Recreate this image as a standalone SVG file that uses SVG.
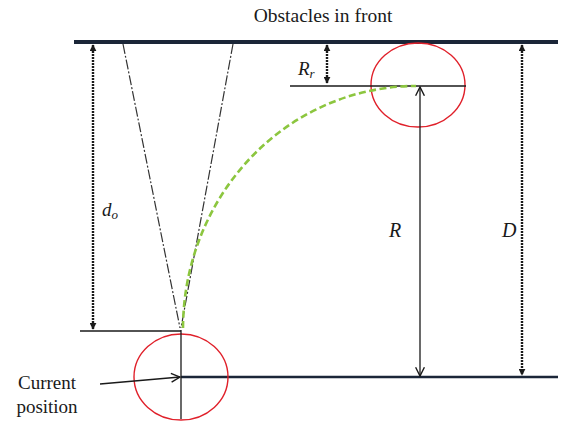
<svg xmlns="http://www.w3.org/2000/svg" width="566" height="421" viewBox="0 0 566 421">
<style>
.t{font-family:"Liberation Serif","Times New Roman",serif;fill:#1a1a1a}
.i{font-style:italic}
.ln{stroke:#1a1a1a;stroke-width:1.3;fill:none}
.dim{stroke:#1a1a1a;stroke-width:2.4;fill:none;stroke-dasharray:2 1}
.circ{stroke:#e0202a;stroke-width:1.4;fill:none}
.cone{stroke:#333;stroke-width:1.2;fill:none;stroke-dasharray:10 2 2 2}
</style>
<defs>
<marker id="af" viewBox="0 0 10 10" refX="9" refY="5" markerWidth="7" markerHeight="7" orient="auto-start-reverse" markerUnits="userSpaceOnUse">
<path d="M0,0 L10,5 L0,10 z" fill="#1a1a1a"/>
</marker>
<marker id="ao" viewBox="0 0 10 10" refX="9" refY="5" markerWidth="11" markerHeight="11" orient="auto-start-reverse" markerUnits="userSpaceOnUse">
<path d="M1,1 L9,5 L1,9" fill="none" stroke="#1a1a1a" stroke-width="1.3"/>
</marker>
</defs>
<rect width="566" height="421" fill="#fff"/>
<g id="title"><text class="t" x="323" y="22" font-size="19.5" text-anchor="middle">Obstacles in front</text></g>
<g id="obstacle-line"><line x1="74" y1="42" x2="558" y2="42" stroke="#1b2638" stroke-width="4"/></g>
<g id="bottom-line"><line x1="181" y1="377" x2="558" y2="377" stroke="#1b2638" stroke-width="2.4"/></g>
<g id="sensor-cone">
<line class="cone" x1="123" y1="44" x2="180" y2="328"/>
<line class="cone" x1="233" y1="44" x2="181" y2="328"/>
</g>
<g id="current-circle"><ellipse class="circ" cx="181" cy="377" rx="47" ry="43"/></g>
<g id="target-circle"><ellipse class="circ" cx="418" cy="85" rx="47" ry="42"/></g>
<g id="connectors">
<line class="ln" x1="80" y1="331" x2="181" y2="331"/>
<line class="ln" x1="181" y1="330" x2="181" y2="419"/>
<line class="ln" x1="290" y1="86" x2="466" y2="86"/>
<line class="dim" x1="93" y1="45" x2="93" y2="329" marker-start="url(#af)" marker-end="url(#af)"/>
<line class="dim" x1="327" y1="45" x2="327" y2="83" marker-start="url(#af)" marker-end="url(#af)"/>
<line class="dim" x1="522" y1="45" x2="522" y2="375" marker-start="url(#af)" marker-end="url(#af)"/>
<line class="ln" x1="420" y1="87" x2="420" y2="376" marker-start="url(#ao)" marker-end="url(#ao)"/>
<line class="ln" x1="100" y1="384" x2="180" y2="377" marker-end="url(#ao)"/>
<path d="M183,328 A233,243 0 0 1 416,86" fill="none" stroke="#8cc63f" stroke-width="2.6" stroke-dasharray="7 3.5"/>
</g>
<g id="labels">
<text class="t i" x="102" y="216" font-size="19">d<tspan font-size="13" dy="3">o</tspan></text>
<text class="t i" x="298" y="75" font-size="19">R<tspan font-size="13" dy="3">r</tspan></text>
<text class="t i" x="389" y="237" font-size="20">R</text>
<text class="t i" x="502" y="237" font-size="20">D</text>
<text class="t" x="47" y="389" font-size="19" text-anchor="middle">Current</text>
<text class="t" x="47" y="413" font-size="19" text-anchor="middle">position</text>
</g>
</svg>
